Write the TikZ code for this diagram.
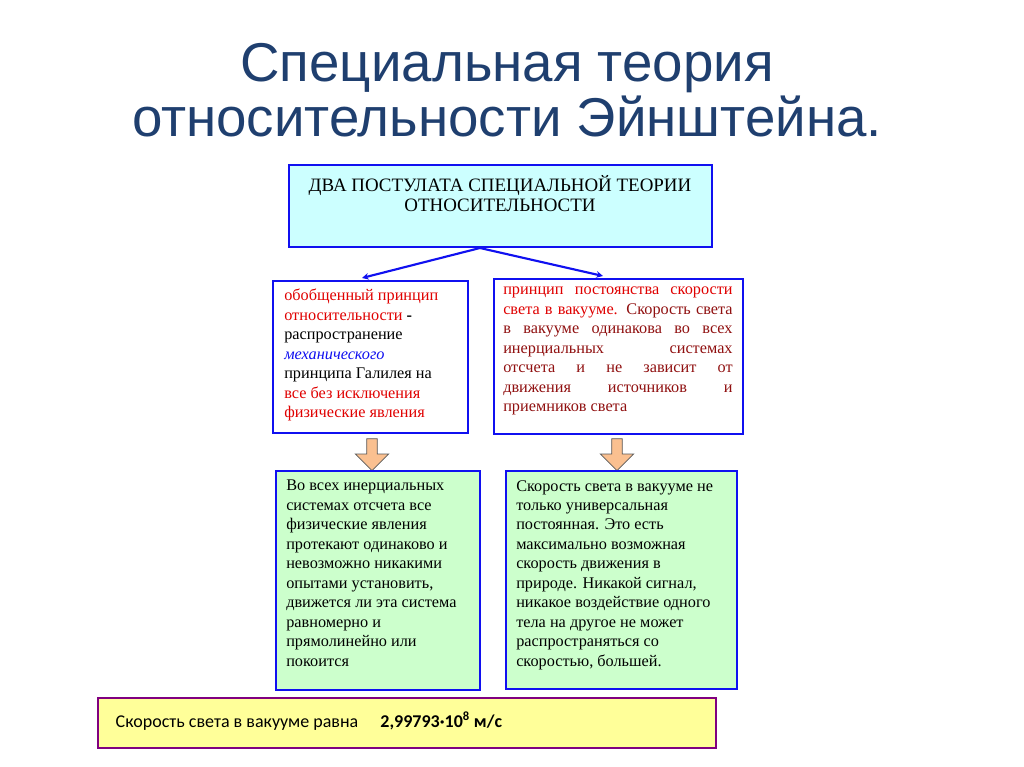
\documentclass[tikz,border=0pt]{standalone}
\usepackage{fontspec}
\setmainfont{Liberation Serif}
\newfontfamily\titlefont{Liberation Sans}
\newfontfamily\botfont{Carlito}
\usetikzlibrary{arrows.meta,shapes.arrows}
\definecolor{titleblue}{HTML}{1F3F6F}
\definecolor{bblue}{HTML}{1010F0}
\definecolor{cyanfill}{HTML}{CCFFFF}
\definecolor{greenfill}{HTML}{CCFFCC}
\definecolor{yellowfill}{HTML}{FFFF99}
\definecolor{purp}{HTML}{800080}
\definecolor{orangefill}{HTML}{FAC090}
\definecolor{redtxt}{HTML}{E00000}
\definecolor{darkred}{HTML}{901010}
\tikzset{
  px/.style={x=0.75pt,y=-0.75pt},
  boxw/.style={draw=bblue,line width=2.2pt,fill=white},
  txt/.style={font=\fontsize{12.2}{14.6}\selectfont,align=left,anchor=north west,inner sep=0pt},
  conn/.style={draw=bblue,line width=1.6pt,-{Stealth[length=5pt,width=5pt]}},
  barrow/.style={draw=gray!70!black,fill=orangefill,line width=0.6pt}
}
\begin{document}
\begin{tikzpicture}[px]
\useasboundingbox (0,0) rectangle (1024,767);
\fill[white] (0,0) rectangle (1024,767);
\node[font=\titlefont\fontsize{41}{41}\selectfont,text=titleblue,align=center] (title) at (507,90) {Специальная теория\\относительности Эйнштейна.};
% top
\draw[boxw,fill=cyanfill] (289,165) rectangle (712,247);
\node[font=\fontsize{14.2}{15}\selectfont,align=center,anchor=north] (toptxt) at (500,171) {ДВА ПОСТУЛАТА СПЕЦИАЛЬНОЙ ТЕОРИИ\\ОТНОСИТЕЛЬНОСТИ};
% middle boxes
\draw[boxw] (273,281) rectangle (468,433);
\draw[boxw] (494,279) rectangle (743,434);
\coordinate (src) at (480,248);
\coordinate (lt) at (362,278);
\coordinate (rt) at (603,276);
\draw[conn] (src) -- (lt);
\draw[conn] (src) -- (rt);
\node[txt] (ltxt) at (284,289) {\parbox{140pt}{\fontsize{12.2}{14.6}\selectfont\raggedright
\textcolor{redtxt}{обобщенный принцип}\\
\textcolor{redtxt}{относительности} \textbf{-}\\
распространение\\
\textcolor{bblue}{\itshape механического}\\
принципа Галилея на\\
\textcolor{redtxt}{все без исключения}\\
\textcolor{redtxt}{физические явления}}};
\node[txt] (rtxt) at (503,287) {\parbox{172pt}{\fontsize{12.2}{14.6}\selectfont\color{darkred}\parindent=0pt
\textcolor{redtxt}{принцип\hfill постоянства\hfill скорости}\linebreak
\textcolor{redtxt}{света в вакууме.} Скорость света\linebreak
в вакууме одинакова во всех\linebreak
инерциальных\hfill системах\linebreak
отсчета\hfill и\hfill не\hfill зависит\hfill от\linebreak
движения\hfill источников\hfill и\linebreak
приемников света}};
% block arrows
\node[single arrow,shape border rotate=270,barrow,minimum width=25pt,single arrow head extend=7pt,minimum height=24pt,inner sep=3pt] (ba1) at (372,452) {};
\node[single arrow,shape border rotate=270,barrow,minimum width=25pt,single arrow head extend=7pt,minimum height=24pt,inner sep=3pt] (ba2) at (617,452) {};
% green boxes
\draw[boxw,fill=greenfill] (276,471) rectangle (480,690);
\draw[boxw,fill=greenfill] (506,471) rectangle (737,689);
\node[txt] (g1) at (286,480) {\parbox{145pt}{\fontsize{12.2}{14.6}\selectfont\raggedright Во всех инерциальных\\ системах отсчета все\\ физические явления\\ протекают одинаково и\\ невозможно никакими\\ опытами установить,\\ движется ли эта система\\ равномерно и\\ прямолинейно или\\ покоится}};
\node[txt] (g2) at (516,480) {\parbox{165pt}{\fontsize{12.2}{14.6}\selectfont\raggedright Скорость света в вакууме не\\ только универсальная\\ постоянная. Это есть\\ максимально возможная\\ скорость движения в\\ природе. Никакой сигнал,\\ никакое воздействие одного\\ тела на другое не может\\ распространяться со\\ скоростью, большей.}};
% bottom
\draw[draw=purp,line width=2.2pt,fill=yellowfill] (98,698) rectangle (716,748);
\node[font=\botfont\fontsize{13.5}{16}\selectfont,anchor=west] (bot) at (111,721) {Скорость света в вакууме равна\quad\ \textbf{2,99793·10\textsuperscript{8} м/с}};
\end{tikzpicture}
\end{document}
